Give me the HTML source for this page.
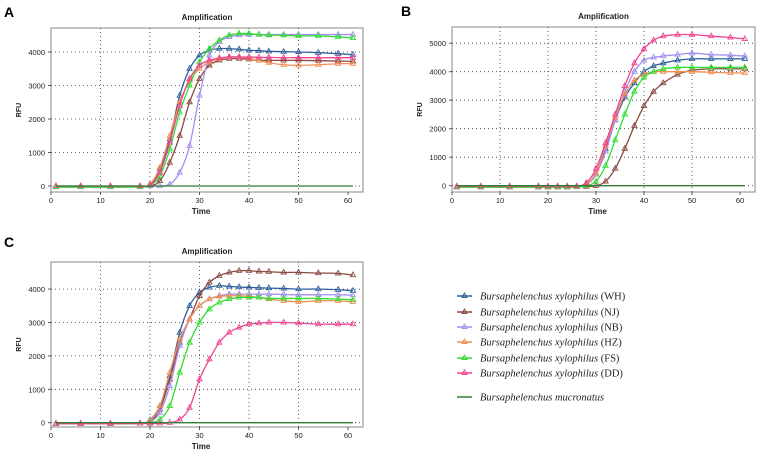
<!DOCTYPE html>
<html><head><meta charset="utf-8"><style>
html,body{margin:0;padding:0;background:#fff;}
svg{display:block;font-family:"Liberation Sans",sans-serif;}
</style></head><body>
<svg id="fig" width="767" height="456" viewBox="0 0 767 456">
<text x="4" y="17" font-size="14" font-weight="bold">A</text>
<text x="401" y="16" font-size="14" font-weight="bold">B</text>
<text x="4" y="247" font-size="14" font-weight="bold">C</text>
<g id="legend" font-family="Liberation Serif,serif" font-size="10.5" fill="#222"></g>
</svg>
<script>
const cycles=[1,6,12,18,20,22,24,26,28,30,32,34,36,38,40,42,44,47,50,54,58,61];
const seriesNames=["WH","NJ","NB","HZ","FS","DD","MUC"];
const seriesColors=["#2f5f9a","#8b4a40","#a38ff0","#f08f55","#33dd33","#ee4590","#2e7d32"];
const legendLabels=["Bursaphelenchus xylophilus","Bursaphelenchus xylophilus","Bursaphelenchus xylophilus","Bursaphelenchus xylophilus","Bursaphelenchus xylophilus","Bursaphelenchus xylophilus","Bursaphelenchus mucronatus"];
const legendTags=["(WH)","(NJ)","(NB)","(HZ)","(FS)","(DD)",""];
const xTicks=[0,10,20,30,40,50,60];
const yTicksA=[0,1000,2000,3000,4000];
const yTicksB=[0,1000,2000,3000,4000,5000];
const yTicksC=[0,1000,2000,3000,4000];
const base=[-30,-30,-30,-20];
const A_WH=[...base,50,500,1400,2700,3500,3900,4050,4100,4100,4080,4050,4040,4020,4010,4000,3980,3950,3920];
const A_NJ=[...base,0,150,700,1500,2500,3200,3600,3750,3800,3800,3780,3750,3750,3750,3750,3740,3730,3720];
const A_NB=[...base,0,0,50,400,1200,2700,3900,4300,4450,4500,4520,4520,4520,4520,4520,4520,4520,4520];
const A_HZ=[...base,60,550,1500,2500,3150,3500,3700,3800,3850,3850,3800,3750,3680,3620,3600,3620,3650,3650];
const A_FS=[...base,20,300,1100,2200,3000,3700,4100,4350,4500,4550,4550,4520,4500,4500,4480,4480,4450,4420];
const A_DD=[0,0,0,0,30,400,1300,2400,3200,3600,3750,3820,3850,3850,3850,3840,3840,3830,3830,3830,3830,3830];
const A_MUC=[0,0,0,0,0,0,0,0,0,0,0,0,0,0,0,0,0,0,0,0,0,0];
const B_WH=[-50,-50,-50,-50,-50,-50,-50,-30,50,400,1300,2300,3100,3600,4000,4200,4300,4400,4450,4450,4450,4450];
const B_NJ=[-50,-50,-50,-50,-50,-50,-50,-40,-30,0,150,600,1300,2100,2800,3300,3600,3900,4050,4100,4100,4100];
const B_NB=[-50,-50,-50,-50,-50,-50,-50,-30,50,400,1200,2300,3300,4000,4400,4500,4550,4600,4650,4600,4580,4550];
const B_HZ=[-50,-50,-50,-50,-50,-50,-50,-30,50,450,1400,2400,3200,3700,3900,4000,4000,4000,4000,3980,3960,3950];
const B_FS=[-50,-50,-50,-50,-50,-50,-50,-40,0,150,700,1600,2500,3300,3800,4000,4100,4150,4150,4150,4150,4150];
const B_DD=[-20,-20,-20,-20,-20,-20,-20,-20,100,600,1500,2500,3500,4300,4800,5100,5250,5300,5300,5250,5200,5150];
const B_MUC=[0,0,0,0,0,0,0,0,0,0,0,0,0,0,0,0,0,0,0,0,0,0];
const C_WH=[...base,80,500,1400,2700,3500,3900,4050,4100,4080,4060,4050,4040,4030,4020,4000,4000,3980,3950];
const C_NJ=[...base,40,400,1300,2400,3100,3800,4200,4400,4500,4550,4550,4530,4520,4500,4500,4480,4470,4420];
const C_NB=[...base,30,300,1100,2300,3100,3500,3700,3800,3850,3850,3850,3850,3850,3840,3830,3830,3830,3820];
const C_HZ=[...base,60,500,1500,2500,3100,3500,3700,3780,3800,3800,3780,3750,3700,3650,3620,3650,3650,3620];
const C_FS=[...base,0,100,500,1500,2400,3000,3400,3600,3700,3750,3750,3750,3720,3720,3720,3720,3700,3680];
const C_DD=[...base,-30,-20,0,100,450,1300,1900,2400,2700,2850,2950,2980,3000,3000,2980,2950,2950,2950];
const C_MUC=[0,0,0,0,0,0,0,0,0,0,0,0,0,0,0,0,0,0,0,0,0,0];

const NS="http://www.w3.org/2000/svg";
const svg=document.getElementById('fig');
function mk(tag,attrs,parent){const e=document.createElementNS(NS,tag);for(const k in attrs)e.setAttribute(k,attrs[k]);(parent||svg).appendChild(e);return e;}

function panel(id,box,yMax,yTicks,series){
  const g=mk('g',{});
  
  
  const [L,T,R,B,y0px,px1000]=box;
  const xS=v=>L+v*(R-L-15)/60;
  const yS=v=>y0px-v*px1000/1000;
  const fr=mk('rect',{x:L,y:T,width:R-L,height:B-T,fill:'#fff',stroke:'#888','stroke-width':1},g);
  
  
  const t=mk('text',{x:(L+R)/2,y:T-8,'font-size':8,'font-weight':'bold','text-anchor':'middle',fill:'#222'},g);t.textContent='Amplification';
  
  
  xTicks.forEach(v=>{
    const x=xS(v);
    if(v>0&&v<60)mk('line',{x1:x,x2:x,y1:T,y2:B,stroke:'#333','stroke-dasharray':'1 3','stroke-width':0.8},g);
    mk('line',{x1:x,x2:x,y1:B,y2:B+3,stroke:'#555'},g);
    const tl=mk('text',{x:x,y:B+11,'font-size':7.5,'text-anchor':'middle',fill:'#222'},g);tl.textContent=v;
    
    
  });
  yTicks.forEach(v=>{
    const y=yS(v);
    mk('line',{x1:L,x2:R,y1:y,y2:y,stroke:'#333','stroke-dasharray':'1 3','stroke-width':0.8},g);
    mk('line',{x1:L-3,x2:L,y1:y,y2:y,stroke:'#555'},g);
    const tl=mk('text',{x:L-6,y:y+3,'font-size':7.5,'text-anchor':'end',fill:'#222'},g);tl.textContent=v;
    
    
  });
  const xt=mk('text',{x:(L+R)/2-6,y:B+22,'font-size':8,'font-weight':'bold','text-anchor':'middle',fill:'#222'},g);xt.textContent='Time';
  
  
  const ym=(T+B)/2;
  const yt=mk('text',{x:L-30,y:ym,'font-size':7,'font-weight':'bold','text-anchor':'middle',fill:'#222',transform:`rotate(-90 ${L-30} ${ym})`},g);yt.textContent='RFU';
  
  
  series.forEach((vals,i)=>{
    const pts=cycles.map((c,j)=>[xS(c),yS(vals[j])]);
    let d=`M${pts[0][0]},${pts[0][1]}`;
    for(let k=0;k<pts.length-1;k++){
      const p0=pts[Math.max(0,k-1)],p1=pts[k],p2=pts[k+1],p3=pts[Math.min(pts.length-1,k+2)];
      const c1=[p1[0]+(p2[0]-p0[0])/6,p1[1]+(p2[1]-p0[1])/6],c2=[p2[0]-(p3[0]-p1[0])/6,p2[1]-(p3[1]-p1[1])/6];
      d+=` C${c1[0]},${c1[1]} ${c2[0]},${c2[1]} ${p2[0]},${p2[1]}`;
    }
    const sg=mk('g',{},g);
    
    
    mk('path',{d:d,fill:'none',stroke:seriesColors[i],'stroke-width':1.3},sg);
    if(seriesNames[i]!=='MUC'){
      pts.forEach(p=>{
        const m=mk('path',{d:`M${p[0]},${p[1]-3}L${p[0]+2.6},${p[1]+1.6}L${p[0]-2.6},${p[1]+1.6}Z`,fill:'none',stroke:seriesColors[i],'stroke-width':0.9},sg);
        
        
      });
    }
  });
}
panel('a',[51,28,363,192,186,33.5],4000,yTicksA,[A_WH,A_NJ,A_NB,A_HZ,A_FS,A_DD,A_MUC]);
panel('b',[452,27,755,192,185.7,28.5],5000,yTicksB,[B_WH,B_NJ,B_NB,B_HZ,B_FS,B_DD,B_MUC]);
panel('c',[51,262,363,427,422.7,33.4],4000,yTicksC,[C_WH,C_NJ,C_NB,C_HZ,C_FS,C_DD,C_MUC]);

const lg=document.getElementById('legend');
const legY=[296,312,327,342,358,373,397];
seriesNames.forEach((n,i)=>{
  const y=legY[i];
  const e=mk('g',{},lg);
  
  
  mk('line',{x1:457,x2:472,y1:y,y2:y,stroke:seriesColors[i],'stroke-width':1.5},e);
  if(n!=='MUC')mk('path',{d:`M464.5,${y-3}L467,${y+1.5}L462,${y+1.5}Z`,fill:'none',stroke:seriesColors[i],'stroke-width':1},e);
  const tx=mk('text',{x:480,y:y+3.5},e);
  const it=mk('tspan',{'font-style':'italic'},tx);it.textContent=legendLabels[i];
  if(legendTags[i]){const tg=mk('tspan',{},tx);tg.textContent=' '+legendTags[i];}
});
</script>
</body></html>
